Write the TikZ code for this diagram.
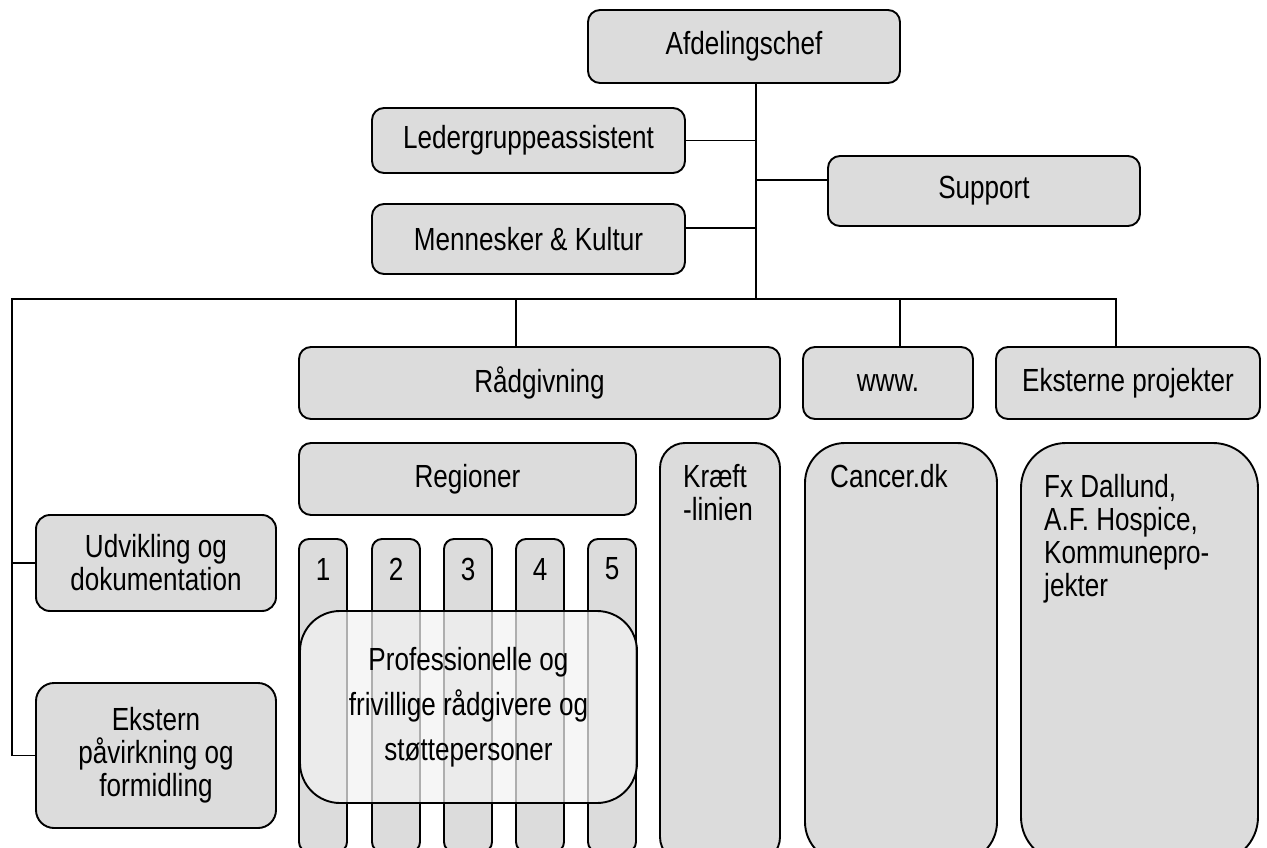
\documentclass[tikz,border=0pt]{standalone}
\usepackage{fontspec}
\setmainfont{Liberation Sans}[FakeStretch=0.815]
\definecolor{boxgray}{HTML}{DCDCDC}
\newcommand\orgfont{\fontsize{32}{33}\selectfont}
\begin{document}
\begin{tikzpicture}[x=1pt,y=-1pt,
  line join=miter,
  link/.style={draw=black, line width=1.7pt},
  box/.style={draw=black, fill=boxgray, line width=1.9pt, rounded corners=12pt,
    inner sep=0pt, align=center, font=\orgfont},
  tallbox/.style={box, rounded corners=#1},
  col/.style={box, rounded corners=10pt, minimum width=48pt, minimum height=313pt},
  txt/.style={inner sep=0pt, align=left, font=\orgfont, anchor=north west},
  digit/.style={inner sep=0pt, font=\orgfont},
  overlay box/.style={draw=black, line width=1.9pt, fill=gray!10, fill opacity=0.72,
    draw opacity=1, text opacity=1, rounded corners=40pt, inner sep=0pt, align=center,
    font=\fontsize{32}{45}\selectfont}]
\useasboundingbox (0,0) rectangle (1267,848);

% top management
\node[box, minimum width=312pt, minimum height=73pt] (afd) at (744,46.5) {Afdelingschef};
\node[box, minimum width=313pt, minimum height=65pt] (led) at (528.5,140.5) {Ledergruppeassistent};
\node[box, minimum width=312pt, minimum height=70pt] (sup) at (984,191) {Support};
\node[box, minimum width=313pt, minimum height=70pt] (mk) at (528.5,239) {Mennesker \& Kultur};

% junction points on the trunk and the bus
\coordinate (hub) at (756,299);
\coordinate (supj) at (756,180);
\coordinate (mkj) at (756,228);
\coordinate (busL) at (12,299);
\coordinate (jrad) at (516,299);
\coordinate (jwww) at (900,299);
\coordinate (jext) at (1116,299);

% second row
\node[box, minimum width=481pt, minimum height=72pt] (rad) at (539.5,383) {Rådgivning};
\node[box, minimum width=170pt, minimum height=72pt] (www) at (888,383) {www.};
\node[box, minimum width=264pt, minimum height=72pt] (ext) at (1128,383) {Eksterne projekter};

% third row
\node[box, minimum width=337pt, minimum height=72pt] (reg) at (467.5,479) {Regioner};
\node[tallbox=25pt, minimum width=120pt, minimum height=419pt] (kr) at (720,652.5) {};
\node[tallbox=40pt, minimum width=192pt, minimum height=419pt] (can) at (901,652.5) {};
\node[tallbox=45pt, minimum width=237pt, minimum height=419pt] (fx) at (1139.5,652.5) {};
\node[txt] (krt) at (683,464) {Kræft\\-linien};
\node[txt] (cant) at (830,464) {Cancer.dk};
\node[txt] (fxt) at (1044,474) {Fx Dallund,\\A.F. Hospice,\\Kommunepro-\\jekter};

% regional columns
\foreach \i/\x in {1/323,2/396,3/468,4/540,5/612}{
  \node[col] (c\i) at (\x,695.5) {};
  \node[digit] (d\i) at (\x,569) {\i};
}
\node[overlay box, minimum width=337pt, minimum height=192pt] (prof) at (468.5,707)
  {Professionelle og\\frivillige rådgivere og\\støttepersoner};

% left-hand staff units
\node[box, rounded corners=14pt, minimum width=240pt, minimum height=96pt] (udv) at (156,563)
  {Udvikling og\\dokumentation};
\node[box, rounded corners=18pt, minimum width=240pt, minimum height=145pt] (eks) at (156,755.5)
  {Ekstern\\påvirkning og\\formidling};

% connectors
\draw[link] (afd.south -| hub) -- (hub);
\draw[link] (led.east) -- (led.east -| hub);
\draw[link] (supj) -- (supj -| sup.west);
\draw[link] (mkj) -- (mkj -| mk.east);
\draw[link] (jext |- ext.north) -- (jext) -- (busL) -- (busL |- eks.west) -- (eks.west);
\draw[link] (udv.west -| busL) -- (udv.west);
\draw[link] (jrad) -- (jrad |- rad.north);
\draw[link] (jwww) -- (jwww |- www.north);
\end{tikzpicture}
\end{document}
